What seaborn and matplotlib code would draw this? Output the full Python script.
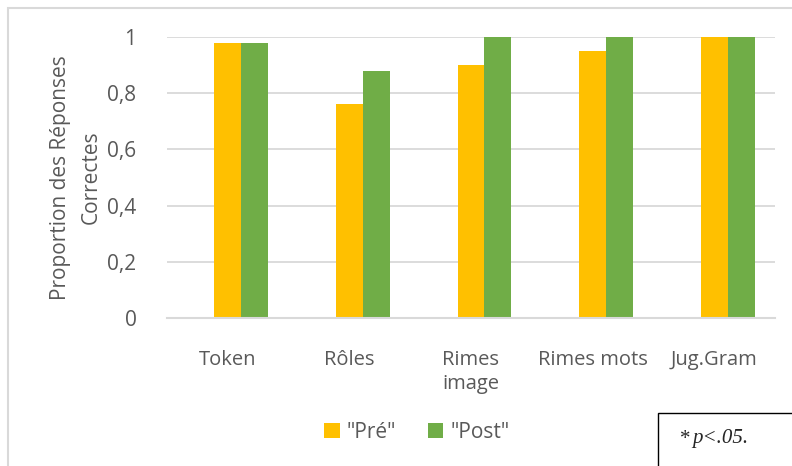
import pandas as pd
import matplotlib.pyplot as plt
from matplotlib.patches import Rectangle
import seaborn as sbn

categories = ['Token', 'Rôles', 'Rimes\nimage', 'Rimes mots', 'Jug.Gram']
pre_values = [0.98, 0.76, 0.90, 0.95, 1.00]
post_values = [0.98, 0.88, 1.00, 1.00, 1.00]
series_names = ['"Pré"', '"Post"']
y_ticks = [0, 0.2, 0.4, 0.6, 0.8, 1.0]
y_tick_labels = ['0', '0,2', '0,4', '0,6', '0,8', '1']

GRAY_TXT = '#595959'
GRID = '#D9D9D9'

df = pd.DataFrame({
    'cat': categories * 2,
    'val': pre_values + post_values,
    'serie': [series_names[0]] * len(categories) + [series_names[1]] * len(categories),
})

sbn.set_theme(style='white')
plt.rcParams['font.family'] = ['Open Sans', 'DejaVu Sans']

fig = plt.figure(figsize=(7.92, 4.66), dpi=100)
ax = fig.add_axes([167 / 792, 1 - 318 / 466, 608 / 792, 281 / 466])

# the source chart reserves an empty first slot in each group (hidden series),
# so the "Pré" bar sits on the category centre and "Post" to its right
slots = [' '] + series_names
sbn.barplot(data=df, x='cat', y='val', hue='serie', order=categories,
            hue_order=slots, palette={' ': 'white', series_names[0]: '#FFC000',
                                      series_names[1]: '#70AD47'},
            width=0.666, gap=0, linewidth=0, saturation=1, ax=ax, legend=True)

ax.set_xlim(-0.5, 4.5)
ax.set_ylim(0, 1)
ax.set_yticks(y_ticks)
ax.set_yticklabels(y_tick_labels)
ax.yaxis.grid(True, color=GRID, lw=1.3)
ax.set_axisbelow(True)
for side in ['top', 'right', 'left']:
    ax.spines[side].set_visible(False)
ax.spines['bottom'].set_color(GRID)
ax.spines['bottom'].set_linewidth(1.5)
ax.tick_params(axis='both', length=0, labelsize=14.5, labelcolor=GRAY_TXT)
ax.tick_params(axis='y', labelsize=15, pad=22)
ax.tick_params(axis='x', pad=23)
for lab in ax.get_xticklabels():
    lab.set_linespacing(1.3)
ax.set_xlabel('')
ax.set_ylabel('Proportion des Réponses\nCorrectes', fontsize=15, color=GRAY_TXT,
              linespacing=1.6)
ax.yaxis.set_label_coords(-0.107, 0.5)

handles, labels = ax.get_legend_handles_labels()
ax.get_legend().remove()
keep = [i for i, l in enumerate(labels) if l in series_names]
fig.legend([handles[i] for i in keep], [labels[i] for i in keep], loc='center',
           bbox_to_anchor=(417 / 792, 1 - 432 / 466),
           ncol=2, frameon=False, fontsize=15, labelcolor=GRAY_TXT,
           handlelength=0.75, handleheight=0.75, handletextpad=0.35, columnspacing=1.5)

# outer chart frame, cut at the right and bottom edges
fig.add_artist(Rectangle((8 / 792, -0.1), 1.2, 1.1 - 8 / 466, transform=fig.transFigure,
                         fill=False, edgecolor=GRID, lw=1.5))
# note box
fig.add_artist(Rectangle((658 / 792, -0.1), 0.5, 0.1 + 1 - 413 / 466, transform=fig.transFigure,
                         fill=False, edgecolor='black', lw=1.0))
fig.text(680 / 792, 1 - 439 / 466, '*', fontsize=15, family='Liberation Serif', va='center')
fig.text(692 / 792, 1 - 439 / 466, 'p<.05.', fontsize=15, family='Liberation Serif',
         style='italic', va='center')

fig.savefig('out.png', dpi=100)
